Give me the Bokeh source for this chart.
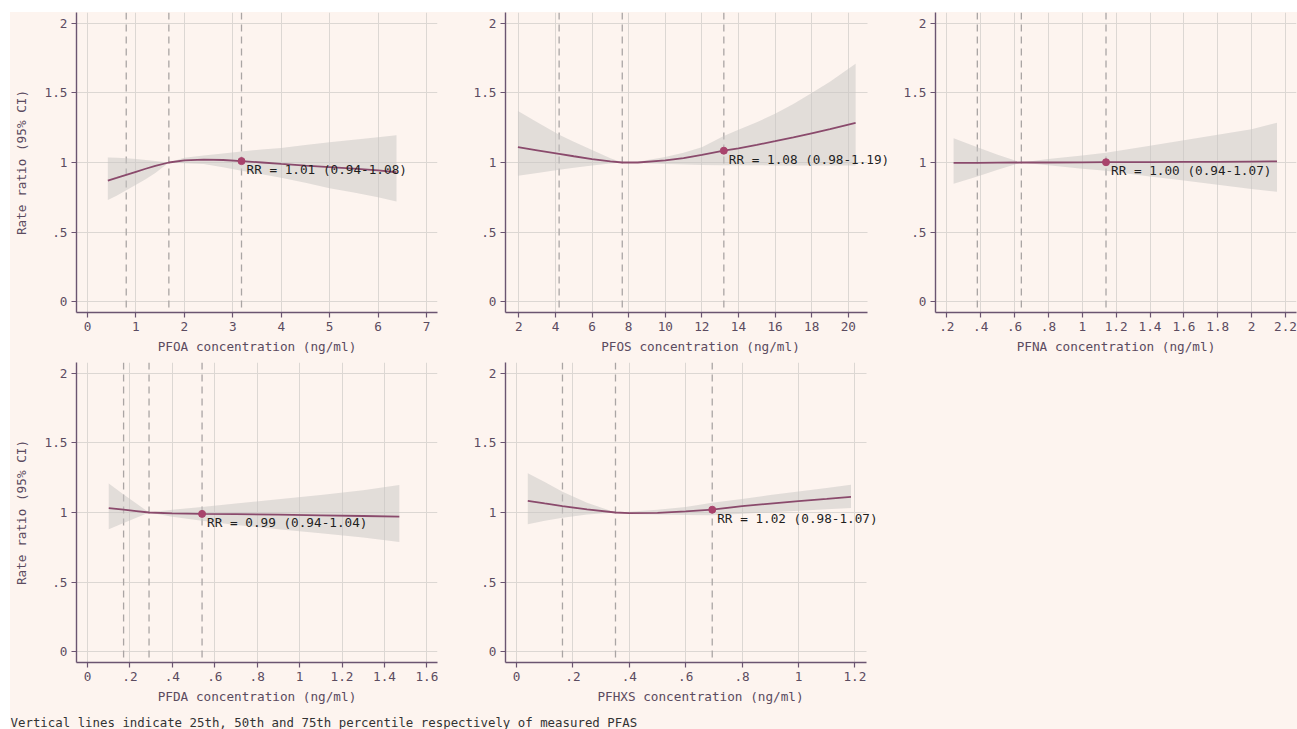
from bokeh.plotting import figure
from bokeh.layouts import column, row
from bokeh.models import FixedTicker, Span, Label, Range1d, BoxAnnotation
from bokeh.embed import file_html
from bokeh.resources import INLINE

# ---------------- data ----------------
pfoa_x = [0.42, 0.6, 0.8, 1.0, 1.2, 1.4, 1.68, 2.0, 2.4, 2.8, 3.18, 3.6, 4.0, 4.5, 5.0, 5.5, 6.0, 6.38]
pfoa_rr = [0.87, 0.889, 0.911, 0.933, 0.955, 0.975, 1.0, 1.016, 1.021, 1.018, 1.01, 1.0, 0.99, 0.978, 0.967, 0.956, 0.944, 0.93]
pfoa_hi = [1.036, 1.034, 1.03, 1.025, 1.018, 1.01, 1.0, 1.035, 1.05, 1.065, 1.08, 1.093, 1.105, 1.125, 1.145, 1.163, 1.182, 1.196]
pfoa_lo = [0.73, 0.76, 0.80, 0.84, 0.88, 0.925, 1.0, 0.995, 0.99, 0.965, 0.94, 0.915, 0.89, 0.855, 0.815, 0.785, 0.75, 0.72]
pfoa_pct = [0.8, 1.68, 3.18]

pfos_x = [1.95, 3, 4.2, 5, 6, 7, 7.65, 8.5, 10, 11, 12, 13.2, 14, 15, 16, 17, 18, 19, 20.4]
pfos_rr = [1.11, 1.088, 1.062, 1.045, 1.025, 1.008, 1.0, 1.0, 1.015, 1.032, 1.055, 1.085, 1.102, 1.127, 1.153, 1.18, 1.21, 1.24, 1.285]
pfos_hi = [1.37, 1.29, 1.2, 1.15, 1.09, 1.03, 1.0, 1.005, 1.04, 1.07, 1.11, 1.19, 1.235, 1.29, 1.35, 1.42, 1.5, 1.58, 1.71]
pfos_lo = [0.905, 0.925, 0.948, 0.962, 0.978, 0.993, 1.0, 0.996, 0.99, 0.985, 0.982, 0.98, 0.98, 0.98, 0.979, 0.979, 0.979, 0.979, 0.978]
pfos_pct = [4.2, 7.65, 13.2]

pfna_x = [0.24, 0.38, 0.5, 0.64, 0.8, 1.0, 1.14, 1.4, 1.6, 1.8, 2.0, 2.15]
pfna_rr = [0.997, 0.998, 0.999, 1.0, 1.0, 1.001, 1.002, 1.003, 1.004, 1.005, 1.007, 1.008]
pfna_hi = [1.175, 1.11, 1.055, 1.0, 1.025, 1.05, 1.07, 1.12, 1.16, 1.2, 1.24, 1.286]
pfna_lo = [0.847, 0.9, 0.948, 1.0, 0.98, 0.955, 0.94, 0.9, 0.87, 0.84, 0.81, 0.789]
pfna_pct = [0.38, 0.64, 1.14]

pfda_x = [0.1, 0.17, 0.23, 0.29, 0.4, 0.54, 0.7, 0.9, 1.1, 1.3, 1.47]
pfda_rr = [1.031, 1.02, 1.01, 1.0, 0.993, 0.99, 0.988, 0.985, 0.98, 0.975, 0.971]
pfda_hi = [1.209, 1.13, 1.065, 1.0, 1.02, 1.04, 1.065, 1.095, 1.125, 1.16, 1.197]
pfda_lo = [0.88, 0.925, 0.962, 1.0, 0.97, 0.94, 0.91, 0.88, 0.85, 0.82, 0.788]
pfda_pct = [0.17, 0.29, 0.54]

pfhxs_x = [0.04, 0.1, 0.163, 0.25, 0.351, 0.4, 0.5, 0.6, 0.694, 0.8, 0.9, 1.0, 1.1, 1.186]
pfhxs_rr = [1.084, 1.065, 1.046, 1.022, 1.0, 0.996, 0.998, 1.008, 1.02, 1.046, 1.064, 1.082, 1.098, 1.113]
pfhxs_hi = [1.283, 1.22, 1.15, 1.07, 1.0, 1.005, 1.02, 1.04, 1.07, 1.098, 1.125, 1.151, 1.177, 1.2]
pfhxs_lo = [0.916, 0.94, 0.962, 0.985, 1.0, 0.99, 0.985, 0.982, 0.98, 0.991, 1.002, 1.013, 1.024, 1.033]
pfhxs_pct = [0.163, 0.351, 0.694]

rr_labels = ["RR = 1.01 (0.94-1.08)", "RR = 1.08 (0.98-1.19)", "RR = 1.00 (0.94-1.07)",
             "RR = 0.99 (0.94-1.04)", "RR = 1.02 (0.98-1.07)"]
rr_points = [1.01, 1.085, 1.002, 0.99, 1.02]

x_titles = ["PFOA concentration (ng/ml)", "PFOS concentration (ng/ml)", "PFNA concentration (ng/ml)",
            "PFDA concentration (ng/ml)", "PFHXS concentration (ng/ml)"]

pfoa_ticks = [0, 1, 2, 3, 4, 5, 6, 7]
pfoa_tlab = ["0", "1", "2", "3", "4", "5", "6", "7"]
pfos_ticks = [2, 4, 6, 8, 10, 12, 14, 16, 18, 20]
pfos_tlab = ["2", "4", "6", "8", "10", "12", "14", "16", "18", "20"]
pfna_ticks = [0.2, 0.4, 0.6, 0.8, 1.0, 1.2, 1.4, 1.6, 1.8, 2.0, 2.2]
pfna_tlab = [".2", ".4", ".6", ".8", "1", "1.2", "1.4", "1.6", "1.8", "2", "2.2"]
pfda_ticks = [0, 0.2, 0.4, 0.6, 0.8, 1.0, 1.2, 1.4, 1.6]
pfda_tlab = ["0", ".2", ".4", ".6", ".8", "1", "1.2", "1.4", "1.6"]
pfhxs_ticks = [0, 0.2, 0.4, 0.6, 0.8, 1.0, 1.2]
pfhxs_tlab = ["0", ".2", ".4", ".6", ".8", "1", "1.2"]

y_ticks = [0, 0.5, 1, 1.5, 2]
y_tlab = ["0", ".5", "1", "1.5", "2"]

y_title = "Rate ratio (95% CI)"
footnote = "Vertical lines indicate 25th, 50th and 75th percentile respectively of measured PFAS"

# ---------------- style ----------------
BG = "#fdf4ef"
TXT = "#5b4b60"
AX = "#6b5571"
GRID = "#dcd7d3"
LINE = "#8a4a6c"
DOT = "#a8436c"
BAND = "#c8c5c3"
DASH = "#aaa5a4"
FONT = "DejaVu Sans Mono"
FS = "12.7px"


def panel(xs, rr, lo, hi, pct, xr, xview, ticks, tlabs, xtitle, ytitle, lab, rrv,
          width, height, bl, br, bt):
    # xr: visible axis extent; xview: frame extent (may extend right to leave room for the label)
    p = figure(width=width, height=height, x_range=Range1d(*xview), y_range=Range1d(-0.079, 2.079),
               output_backend="svg", toolbar_location=None,
               min_border_left=bl, min_border_right=br, min_border_top=bt, min_border_bottom=44,
               background_fill_color=BG, border_fill_color=BG, outline_line_color=None)
    p.xaxis.ticker = FixedTicker(ticks=ticks)
    p.xaxis.major_label_overrides = {t: l for t, l in zip(ticks, tlabs)}
    p.xaxis.bounds = xr
    p.yaxis.ticker = FixedTicker(ticks=y_ticks)
    p.yaxis.major_label_overrides = {t: l for t, l in zip(y_ticks, y_tlab)}
    p.xgrid.ticker = FixedTicker(ticks=ticks)
    p.ygrid.ticker = FixedTicker(ticks=y_ticks)
    p.grid.grid_line_color = GRID
    p.grid.grid_line_width = 1
    for ax in p.axis:
        ax.axis_line_color = AX
        ax.axis_line_width = 1.4
        ax.major_tick_line_color = AX
        ax.major_tick_line_width = 1.2
        ax.major_tick_out = 5
        ax.major_tick_in = 0
        ax.minor_tick_line_color = None
        ax.major_label_text_font = FONT
        ax.major_label_text_font_size = FS
        ax.major_label_text_color = TXT
        ax.major_label_standoff = 4
        ax.axis_label_text_font = FONT
        ax.axis_label_text_font_size = FS
        ax.axis_label_text_font_style = "normal"
        ax.axis_label_text_color = TXT
    p.xaxis.axis_label = xtitle
    p.xaxis.axis_label_standoff = 5
    p.yaxis.major_label_orientation = "horizontal"
    if ytitle:
        p.yaxis.axis_label = ytitle
        p.yaxis.axis_label_standoff = 13

    if xview[1] > xr[1]:
        # mask gridlines beyond the axis extent
        p.add_layout(BoxAnnotation(left=xr[1], fill_color=BG, fill_alpha=1.0, line_color=None,
                                   level="underlay"))
    for v in pct:
        p.add_layout(Span(location=v, dimension="height", line_color=DASH, line_width=1.3,
                          line_dash="7 5", level="underlay"))
    p.varea(x=xs, y1=lo, y2=hi, fill_color=BAND, fill_alpha=0.5)
    p.line(xs, rr, line_color=LINE, line_width=1.8)
    xm = pct[2]
    p.scatter([xm], [rrv], size=7, fill_color=DOT, line_color=DOT)
    p.add_layout(Label(x=xm, y=rrv, text=lab, x_offset=5, y_offset=-1, text_baseline="top",
                       text_align="left", text_font=FONT, text_font_size=FS, text_color="#1f1f1f"))
    return p


# frame pixel widths: 361 standard, 390 for the extended middle panels
p2_view = (1.27, 1.27 + (21.05 - 1.27) * 390 / 362)
p5_view = (-0.039, -0.039 + (1.241 + 0.039) * 390 / 361)

p1 = panel(pfoa_x, pfoa_rr, pfoa_lo, pfoa_hi, pfoa_pct, (-0.227, 7.227), (-0.227, 7.227),
           pfoa_ticks, pfoa_tlab, x_titles[0], y_title, rr_labels[0], rr_points[0], 430, 344, 66, 3, 0)
p2 = panel(pfos_x, pfos_rr, pfos_lo, pfos_hi, pfos_pct, (1.27, 21.05), p2_view,
           pfos_ticks, pfos_tlab, x_titles[1], None, rr_labels[1], rr_points[1], 455, 344, 65, 0, 0)
p3 = panel(pfna_x, pfna_rr, pfna_lo, pfna_hi, pfna_pct, (0.133, 2.265), (0.133, 2.265),
           pfna_ticks, pfna_tlab, x_titles[2], None, rr_labels[2], rr_points[2], 402, 344, 40, 1, 0)
p4 = panel(pfda_x, pfda_rr, pfda_lo, pfda_hi, pfda_pct, (-0.052, 1.65), (-0.052, 1.65),
           pfda_ticks, pfda_tlab, x_titles[3], y_title, rr_labels[3], rr_points[3], 430, 350, 66, 3, 6)
p5 = panel(pfhxs_x, pfhxs_rr, pfhxs_lo, pfhxs_hi, pfhxs_pct, (-0.039, 1.241), p5_view,
           pfhxs_ticks, pfhxs_tlab, x_titles[4], None, rr_labels[4], rr_points[4], 455, 350, 65, 0, 6)


def blank(w, h):
    b = figure(width=w, height=h, output_backend="svg", toolbar_location=None,
               x_axis_location=None, y_axis_location=None, min_border=0,
               background_fill_color=BG, border_fill_color=BG, outline_line_color=None,
               x_range=Range1d(0, 1), y_range=Range1d(0, 1))
    b.grid.visible = False
    return b


filler = blank(402, 350)
foot = blank(1287, 23)
foot.add_layout(Label(x=0, y=7, x_units="screen", y_units="screen", text=footnote,
                      text_baseline="middle", text_align="left", text_font=FONT,
                      text_font_size="12.4px", text_color="#333333"))

bgstyle = {"background-color": BG}
layout = column(row(p1, p2, p3, styles=bgstyle), row(p4, p5, filler, styles=bgstyle), foot,
                margin=(12, 0, 0, 10), styles=bgstyle)
open("out.html", "w").write(file_html(layout, INLINE))
